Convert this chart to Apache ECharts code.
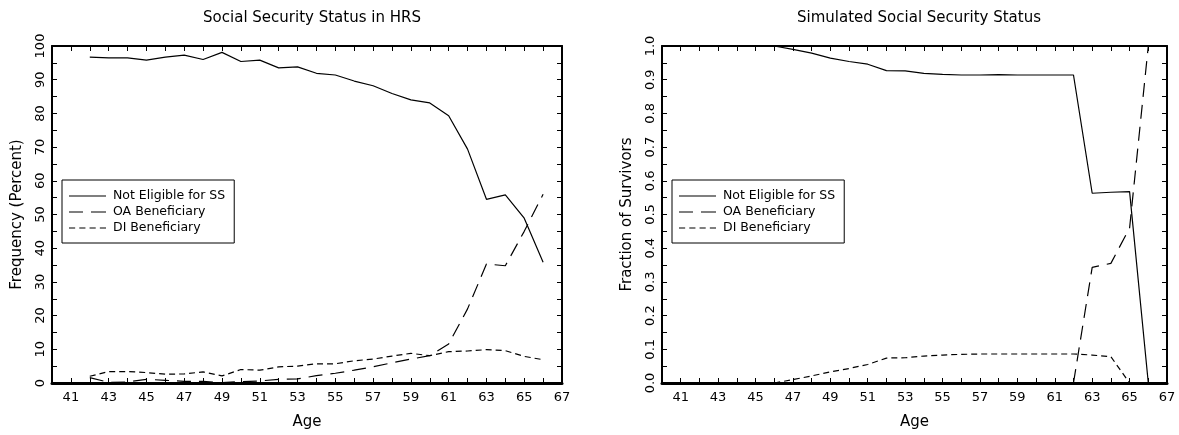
<!DOCTYPE html>
<html>
<head>
<meta charset="utf-8">
<script src="https://cdn.jsdelivr.net/npm/echarts@6/dist/echarts.min.js"></script>
<style>html,body{margin:0;padding:0;background:#fff;}#c{width:1179px;height:435px;}</style>
</head>
<body>
<div id="c"></div>
<script>
// ---- Data ----
const hrsAges = [42,43,44,45,46,47,48,49,50,51,52,53,54,55,56,57,58,59,60,61,62,63,64,65,66];
const hrsNotEligible = [96.7,96.5,96.5,95.8,96.7,97.3,96.0,98.1,95.4,95.8,93.5,93.8,91.9,91.4,89.6,88.2,85.9,84.0,83.1,79.3,69.4,54.5,55.8,48.9,35.8];
const hrsOA = [1.6,0.2,0.3,1.1,0.8,0.5,0.5,0.1,0.4,0.6,1.1,1.2,2.2,2.9,3.8,4.8,6.0,7.1,8.1,11.6,22.0,35.3,34.8,45.0,56.0];
const hrsDI = [2.0,3.4,3.4,3.1,2.6,2.7,3.3,2.1,4.0,3.8,4.8,5.0,5.7,5.7,6.6,7.1,8.0,8.8,8.1,9.3,9.5,9.9,9.6,7.9,6.9];

const simAges = [46,47,48,49,50,51,52,53,54,55,56,57,58,59,60,61,62,63,64,65,66];
const simNotEligible = [1.0,0.99,0.979,0.964,0.954,0.946,0.927,0.926,0.919,0.916,0.914,0.914,0.915,0.914,0.914,0.914,0.914,0.563,0.566,0.568,0.0];
const simOA = [null,null,null,null,null,null,null,null,null,null,null,null,null,null,null,null,0.0,0.343,0.355,0.46,1.0];
const simDI = [0.0,0.01,0.021,0.033,0.043,0.055,0.074,0.075,0.08,0.083,0.085,0.086,0.086,0.086,0.086,0.086,0.086,0.083,0.078,0.0,0.0];

const titles = ['Social Security Status in HRS', 'Simulated Social Security Status'];
const yNames = ['Frequency (Percent)', 'Fraction of Survivors'];
const seriesNames = ['Not Eligible for SS', 'OA Beneficiary', 'DI Beneficiary'];
const xName = 'Age';

// ---- Build ----
const FONT = 'DejaVu Sans';
const pairs = (xs, ys) => xs.map((x, i) => [x, ys[i]]);
const lineTypes = ['solid', [14, 8], [6, 4]];
const legendIcons = [
  'path://M0,0h37v1h-37z',
  'path://M0,0h14v1h-14zM22,0h15v1h-15z',
  'path://M0,0h6v1h-6zM10,0h6v1h-6zM20,0h6v1h-6zM30,0h6v1h-6z'
];

const grids = [
  {left: 52, right: 617, top: 46, bottom: 51},
  {left: 662, right: 12, top: 46, bottom: 51}
];

function xAxes(gi) {
  const base = {
    gridIndex: gi, type: 'value', min: 40, max: 67, interval: 1,
    splitLine: {show: false},
    axisTick: {show: true, inside: true, length: 5, lineStyle: {color: '#000', width: 1}}
  };
  return [
    Object.assign({}, base, {
      position: 'bottom',
      axisLine: {show: true, onZero: false, lineStyle: {color: '#000', width: 3}},
      axisLabel: {color: '#000', fontFamily: FONT, fontSize: 13, margin: 8,
        formatter: v => (v % 2 === 1 ? String(v) : '')},
      name: xName, nameLocation: 'middle', nameGap: 32,
      nameTextStyle: {color: '#000', fontFamily: FONT, fontSize: 15}
    }),
    Object.assign({}, base, {
      position: 'top',
      axisLine: {show: true, onZero: false, lineStyle: {color: '#000', width: 2}},
      axisLabel: {show: false}
    })
  ];
}

function yAxes(gi, max, interval, fmt) {
  const base = {
    gridIndex: gi, type: 'value', min: 0, max: max, interval: interval,
    splitLine: {show: false},
    axisTick: {show: true, inside: true, length: 5, lineStyle: {color: '#000', width: 1}}
  };
  return [
    Object.assign({}, base, {
      position: 'left',
      axisLine: {show: true, onZero: false, lineStyle: {color: '#000', width: 2}},
      axisLabel: {color: '#000', fontFamily: FONT, fontSize: 13, rotate: 90, margin: 5, formatter: fmt},
      name: yNames[gi], nameLocation: 'middle', nameGap: 27,
      nameTextStyle: {color: '#000', fontFamily: FONT, fontSize: 15}
    }),
    Object.assign({}, base, {
      position: 'right',
      axisLine: {show: true, onZero: false, lineStyle: {color: '#000', width: 2}},
      axisLabel: {show: false}
    })
  ];
}

const fmtPct = v => (Math.round(v) % 10 === 0 ? String(Math.round(v)) : '');
const fmtFrac = v => { const r = Math.round(v * 100); return r % 10 === 0 ? (r / 100).toFixed(1) : ''; };

const xAxis = [...xAxes(0), ...xAxes(1)];
const yAxis = [...yAxes(0, 100, 5, fmtPct), ...yAxes(1, 1, 0.05, fmtFrac)];

function mkSeries(name, idx, xi, yi, data) {
  return {
    name: name, type: 'line', xAxisIndex: xi, yAxisIndex: yi,
    data: data, symbol: 'none', showSymbol: false, connectNulls: false,
    silent: true, animation: false,
    lineStyle: {color: '#000', width: 1.2, type: lineTypes[idx]},
    itemStyle: {color: '#000'}
  };
}

const series = [
  mkSeries(seriesNames[0], 0, 0, 0, pairs(hrsAges, hrsNotEligible)),
  mkSeries(seriesNames[1], 1, 0, 0, pairs(hrsAges, hrsOA)),
  mkSeries(seriesNames[2], 2, 0, 0, pairs(hrsAges, hrsDI)),
  mkSeries(seriesNames[0], 0, 2, 2, pairs(simAges, simNotEligible)),
  mkSeries(seriesNames[1], 1, 2, 2, pairs(simAges, simOA)),
  mkSeries(seriesNames[2], 2, 2, 2, pairs(simAges, simDI))
];

function legend(left) {
  return {
    data: seriesNames.map((n, i) => ({name: n, icon: legendIcons[i]})),
    orient: 'vertical', left: left, top: 180,
    align: 'left', itemWidth: 37, itemHeight: 1.2, itemGap: 2,
    padding: [9, 9, 8, 7], borderColor: '#000', borderWidth: 1,
    backgroundColor: '#fff', selectedMode: false,
    itemStyle: {color: '#000', borderWidth: 0},
    lineStyle: {width: 0},
    textStyle: {color: '#000', fontFamily: FONT, fontSize: 12.5, lineHeight: 14, padding: [0, 0, 0, 2]}
  };
}

const option = {
  backgroundColor: '#fff',
  animation: false,
  title: [
    {text: titles[0], left: 307, top: 6, textAlign: 'center',
     textStyle: {color: '#000', fontFamily: FONT, fontSize: 15, fontWeight: 'normal'}},
    {text: titles[1], left: 914, top: 6, textAlign: 'center',
     textStyle: {color: '#000', fontFamily: FONT, fontSize: 15, fontWeight: 'normal'}}
  ],
  legend: [legend(62), legend(672)],
  grid: grids,
  xAxis: xAxis,
  yAxis: yAxis,
  series: series
};

const chart = echarts.init(document.getElementById('c'), null, {renderer: 'canvas'});
chart.setOption(option);
</script>
</body>
</html>
